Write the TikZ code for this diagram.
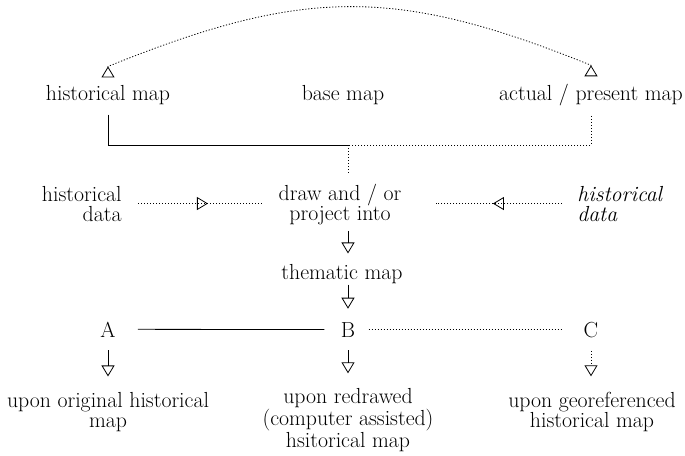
\documentclass[tikz,border=0pt]{standalone}
\usepackage{fontspec}
\usetikzlibrary{arrows.meta,decorations.markings}

\begin{document}
\begin{tikzpicture}[x=1pt, y=-1pt, line width=0.8pt,
  every node/.style={inner sep=0pt, font=\fontsize{21.8}{20}\selectfont},
  tri/.style={-{Triangle[open, length=11pt, width=13pt]}},
  dotline/.style={dash pattern=on 1.2pt off 1.8pt},
  midtip/.style={postaction={decorate}, decoration={markings,
    mark=at position #1 with {\arrow{Triangle[open, length=11pt, width=13pt]}}}}]
  \useasboundingbox (0,0) rectangle (685,455);
  \node[anchor=base] (hmap) at (108,100) {historical map};
  \node[anchor=base] (bmap) at (343,100) {base map};
  \node[anchor=base] (pmap) at (591,100) {actual / present map};
  \node[anchor=base east, align=right] (hdata) at (122,221) {historical\\data};
  \node[anchor=base, align=center] (proj) at (340,220) {draw and / or\\project into};
  \node[anchor=base west, align=left, font=\fontsize{21.8}{20}\selectfont\itshape] (idata) at (577,221) {historical\\data};
  \node[anchor=base] (them) at (342,279) {thematic map};
  \node[anchor=base] (A) at (108,337) {A};
  \node[anchor=base] (B) at (348,337) {B};
  \node[anchor=base] (C) at (591,337) {C};
  \node[anchor=base, align=center] (resA) at (108,427) {upon original historical\\map};
  \node[anchor=base, align=center] (resB) at (348,447) {upon redrawed\\(computer assisted)\\hsitorical map};
  \node[anchor=base, align=center] (resC) at (592,427) {upon georeferenced\\historical map};
  \coordinate (jn) at (348,145);
  \draw[dotline, {Triangle[open, reversed, length=11pt, width=13pt]}-{Triangle[open, reversed, length=11pt, width=13pt]}]
    ([yshift=7pt]hmap.north) -- ([yshift=18pt]hmap.north)
    .. controls +(195,-79) and +(-195,-79) .. ([yshift=18pt]pmap.north) -- ([yshift=7pt]pmap.north);
  \draw[shorten <=10pt] (hmap.south) |- (jn);
  \draw[dotline, shorten <=10pt] (pmap.south) |- (jn);
  \draw[dotline, shorten >=10pt] (jn) -- (jn |- proj.north);
  \draw[dotline, shorten <=16pt, shorten >=15pt, midtip=0.55] (hdata.east) -- (hdata.east -| proj.west);
  \draw[dotline, shorten <=15pt, shorten >=34pt, midtip=0.48] (idata.west) -- (idata.west -| proj.east);
  \draw[tri, shorten <=6pt, shorten >=10pt] (proj.south -| B) -- (them.north -| B);
  \draw[tri, shorten <=1pt, shorten >=13pt] (them.south -| B) -- (B.north);
  \draw[shorten <=22pt, shorten >=16pt] (A) -- (B);
  \draw[dotline, shorten <=13pt, shorten >=22pt] (B) -- (C);
  \draw[tri, shorten <=13pt, shorten >=15pt] (A.south) -- (resA.north);
  \draw[tri, shorten <=13pt, shorten >=15pt] (B.south) -- (resB.north);
  \draw[tri, dotline, shorten <=13pt, shorten >=15pt] (C.south) -- (C.south |- resC.north);
\end{tikzpicture}
\end{document}
